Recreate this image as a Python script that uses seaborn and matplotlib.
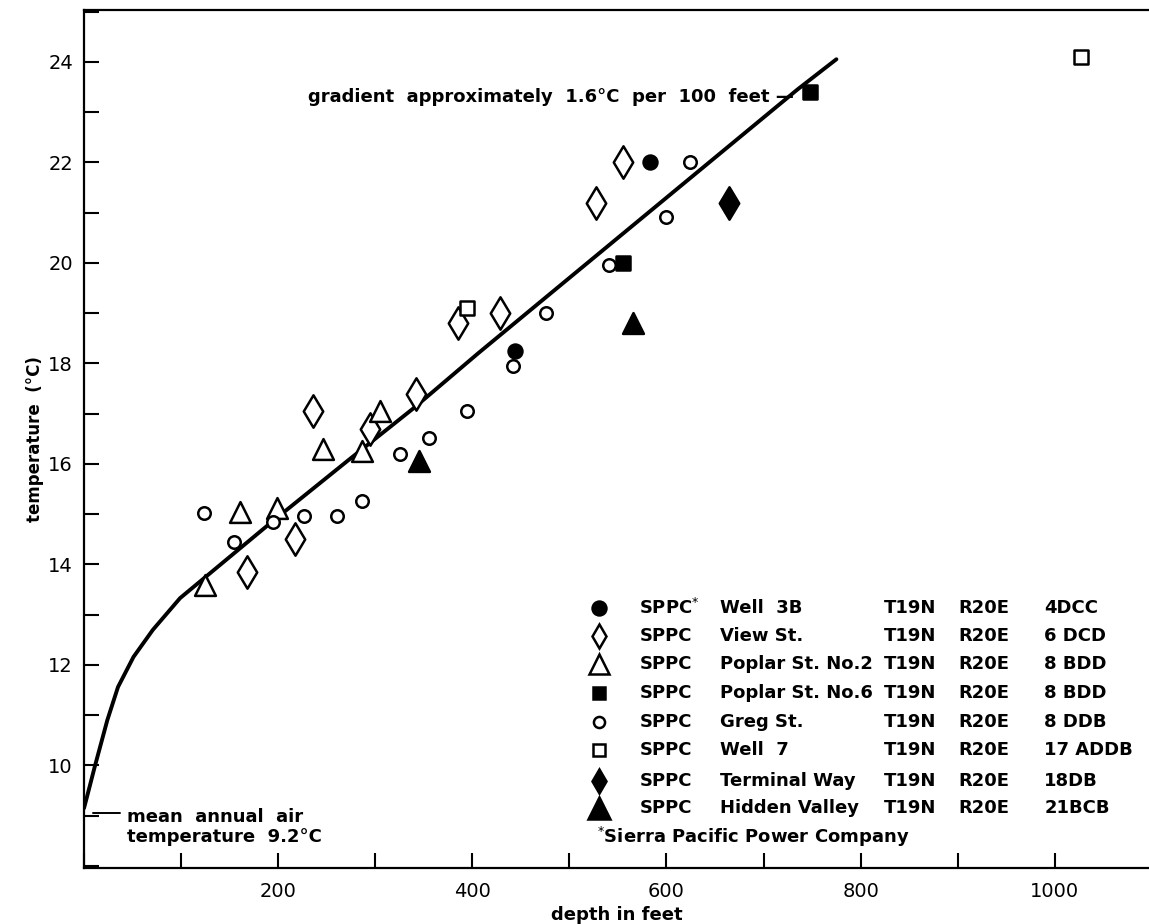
import numpy as np
import pandas as pd
import matplotlib
matplotlib.use('Agg')
import matplotlib.pyplot as plt
from matplotlib.ticker import MultipleLocator
import seaborn as sns

# curva de temperatura (profundidad en pies, temperatura en C)
curve_depth = [0, 3, 11, 24, 35, 51, 71, 99, 195, 274, 339, 406, 478, 735, 775]
curve_temp = [9.15, 9.37, 9.97, 10.9, 11.56, 12.16, 12.7, 13.33, 14.87, 16.1, 17.1, 18.2, 19.35, 23.45, 24.05]

# pozos
well3b_depth = [583, 444]
well3b_temp = [22.0, 18.25]
view_depth = [555, 527, 385, 429, 342, 295, 236, 217, 168]
view_temp = [22.0, 21.2, 18.8, 19.0, 17.4, 16.7, 17.05, 14.5, 13.85]
poplar2_depth = [305, 286, 246, 199, 161, 125]
poplar2_temp = [17.05, 16.25, 16.3, 15.12, 15.05, 13.6]
poplar6_depth = [555, 748]
poplar6_temp = [20.0, 23.4]
greg_depth = [624, 599, 541, 476, 442, 395, 355, 326, 286, 261, 227, 195, 154, 124]
greg_temp = [22.0, 20.92, 19.95, 19.0, 17.95, 17.05, 16.52, 16.2, 15.27, 14.97, 14.97, 14.85, 14.45, 15.03]
well7_depth = [1027, 395]
well7_temp = [24.1, 19.1]
terminal_depth = [664]
terminal_temp = [21.2]
hidden_depth = [565, 345]
hidden_temp = [18.8, 16.05]

legend_rows = [
    ("SPPC$^{*}$", "Well  3B", "T19N", "R20E", "4DCC"),
    ("SPPC", "View St.", "T19N", "R20E", "6 DCD"),
    ("SPPC", "Poplar St. No.2", "T19N", "R20E", "8 BDD"),
    ("SPPC", "Poplar St. No.6", "T19N", "R20E", "8 BDD"),
    ("SPPC", "Greg St.", "T19N", "R20E", "8 DDB"),
    ("SPPC", "Well  7", "T19N", "R20E", "17 ADDB"),
    ("SPPC", "Terminal Way", "T19N", "R20E", "18DB"),
    ("SPPC", "Hidden Valley", "T19N", "R20E", "21BCB"),
]

# estilos: (marcador, tamaño datos, tamaño leyenda, relleno)
styles = [
    ('o', 10, 10, 'black'),
    ('d', 16.5, 12.5, 'white'),
    ('^', 15, 14, 'white'),
    ('s', 9.5, 9, 'black'),
    ('o', 9, 8, 'white'),
    ('s', 9.5, 8.5, 'white'),
    ('d', 16.5, 12.5, 'black'),
    ('^', 15, 16, 'black'),
]
series = [
    (well3b_depth, well3b_temp), (view_depth, view_temp), (poplar2_depth, poplar2_temp),
    (poplar6_depth, poplar6_temp), (greg_depth, greg_temp), (well7_depth, well7_temp),
    (terminal_depth, terminal_temp), (hidden_depth, hidden_temp),
]

sns.set_style('ticks')
plt.rcParams['font.family'] = ['DejaVu Sans']
plt.rcParams.update({'text.color': 'black', 'axes.labelcolor': 'black',
                     'xtick.color': 'black', 'ytick.color': 'black',
                     'axes.edgecolor': 'black'})

fig = plt.figure(figsize=(11.49, 9.24), dpi=100)
ax = fig.add_axes([84 / 1149, 56 / 924, 1065 / 1149, 858 / 924])

curve = pd.DataFrame({'depth': curve_depth, 'temp': curve_temp})
sns.lineplot(data=curve, x='depth', y='temp', sort=False, estimator=None,
             color='black', linewidth=2.8, ax=ax, zorder=2)

for (d, t), (m, ms, _, fc) in zip(series, styles):
    sns.scatterplot(x=d, y=t, marker=m, s=ms ** 2, color=fc, edgecolor='black',
                    linewidth=1.8, ax=ax, zorder=3)

ax.set_xlim(0, 1097)
ax.set_ylim(7.96, 25.03)
ax.set_xticks([200, 400, 600, 800, 1000])
ax.xaxis.set_minor_locator(MultipleLocator(100))
ax.set_yticks(range(10, 25, 2))
ax.yaxis.set_minor_locator(MultipleLocator(1))
ax.tick_params(which='both', direction='in', length=11, width=1.5, labelsize=14)
ax.tick_params(axis='x', pad=10)
ax.tick_params(axis='y', pad=8)
for s in ['left', 'bottom', 'top']:
    ax.spines[s].set_linewidth(1.6)
ax.spines['right'].set_visible(False)

ax.set_xlabel('depth in feet', fontsize=13, fontweight='bold', labelpad=4)
ax.set_ylabel('temperature  (°C)', fontsize=12, fontweight='bold', labelpad=3)

# anotaciones
ax.text(231, 23.3, 'gradient  approximately  1.6°C  per  100  feet —', fontsize=13,
        fontweight='bold', ha='left', va='center')
ax.plot([9, 37], [9.05, 9.05], color='black', linewidth=1.4)
ax.text(44, 8.97, 'mean  annual  air', fontsize=13, fontweight='bold', ha='left', va='center')
ax.text(44, 8.58, 'temperature  9.2°C', fontsize=13, fontweight='bold', ha='left', va='center')

# leyenda manual
row_y = [13.13, 12.57, 12.01, 11.44, 10.86, 10.30, 9.70, 9.15]
col_x = [572, 655, 824, 901, 989]
for yy, row, (m, _, lms, fc) in zip(row_y, legend_rows, styles):
    ax.plot([530], [yy], marker=m, markersize=lms, markerfacecolor=fc,
            markeredgecolor='black', markeredgewidth=1.8, linestyle='none')
    for xx, txt in zip(col_x, row):
        ax.text(xx, yy, txt, fontsize=13, fontweight='bold', ha='left', va='center')
ax.text(528, 8.57, '$^{*}$Sierra Pacific Power Company', fontsize=13, fontweight='bold',
        ha='left', va='center')

fig.savefig('out.png', dpi=100)
